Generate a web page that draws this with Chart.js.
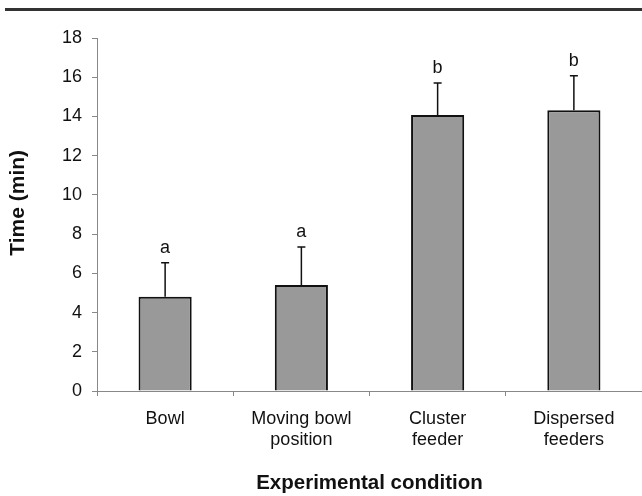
<!DOCTYPE html>
<html>
<head>
<meta charset="utf-8">
<script src="https://cdn.jsdelivr.net/npm/chart.js@4"></script>
<style>
  html, body { margin: 0; padding: 0; background: #fff; }
  #wrap { width: 642px; height: 496px; }
</style>
</head>
<body>
<div id="wrap"><canvas id="timeChart" width="642" height="496"></canvas></div>
<script>
// data
const conditions = [["Bowl"], ["Moving bowl", "position"], ["Cluster", "feeder"], ["Dispersed", "feeders"]];
const meanTime = [4.81, 5.41, 14.07, 14.31];
const errTime = [1.73, 1.93, 1.63, 1.77];
const groupLetters = ["a", "a", "b", "b"];
const yTicks = [0, 2, 4, 6, 8, 10, 12, 14, 16, 18];

const fontName = "'Liberation Sans', Arial, sans-serif";

// upper error bars plus the significance letters
const errorBars = {
    id: "errorBars",
    afterDatasetsDraw(chart) {
        const c = chart.ctx;
        const yScale = chart.scales.y;
        const bars = chart.getDatasetMeta(0).data;
        c.save();
        c.strokeStyle = "#111";
        c.lineWidth = 1.5;
        c.fillStyle = "#111";
        c.font = "18px " + fontName;
        c.textAlign = "center";
        c.textBaseline = "alphabetic";
        bars.forEach(function(bar, i) {
            const top = yScale.getPixelForValue(meanTime[i] + errTime[i]);
            c.beginPath();
            c.moveTo(bar.x, bar.y);
            c.lineTo(bar.x, top);
            c.moveTo(bar.x - 4, top);
            c.lineTo(bar.x + 4, top);
            c.stroke();
            c.fillText(groupLetters[i], bar.x, top - 10);
        });
        c.restore();
    }
};

// dark rule across the top of the figure
const topRule = {
    id: "topRule",
    beforeDraw(chart) {
        const c = chart.ctx;
        c.save();
        c.fillStyle = "#fff";
        c.fillRect(0, 0, chart.width, chart.height);
        c.strokeStyle = "#333";
        c.lineWidth = 3;
        c.beginPath();
        c.moveTo(5, 9.5);
        c.lineTo(chart.width, 9.5);
        c.stroke();
        c.restore();
    }
};

const ctx = document.getElementById("timeChart");
new Chart(ctx, {
    type: "bar",
    data: {
        labels: conditions,
        datasets: [{
            label: "Time (min)",
            data: meanTime,
            backgroundColor: "#999999",
            borderColor: "#111",
            borderWidth: 2,
            barPercentage: 0.39,
            categoryPercentage: 1
        }]
    },
    options: {
        responsive: false,
        animation: false,
        layout: { padding: { top: 38, left: 0, right: 0, bottom: 0 } },
        plugins: {
            legend: { display: false },
            tooltip: { enabled: false }
        },
        scales: {
            x: {
                grid: { offset: true, drawOnChartArea: false, tickLength: 5, color: "#888" },
                border: { color: "#888", width: 1 },
                ticks: {
                    color: "#111",
                    padding: 12,
                    maxRotation: 0,
                    font: { family: fontName, size: 18, lineHeight: 1.2 }
                },
                title: {
                    display: true,
                    text: "Experimental condition",
                    color: "#111",
                    font: { family: fontName, size: 20.5, weight: "bold" },
                    padding: { top: 0, bottom: 0 }
                },
                afterFit(scale) { scale.height = 105; }
            },
            y: {
                min: 0,
                max: 18,
                afterBuildTicks(scale) {
                    scale.ticks = yTicks.map(function(v) { return { value: v }; });
                },
                grid: { drawOnChartArea: false, tickLength: 5, color: "#888" },
                border: { color: "#888", width: 1 },
                ticks: {
                    color: "#111",
                    padding: 10,
                    font: { family: fontName, size: 18 }
                },
                title: {
                    display: true,
                    text: "    Time (min)",
                    color: "#111",
                    font: { family: fontName, size: 21, weight: "bold" },
                    padding: { top: 6, bottom: 0 }
                },
                afterFit(scale) { scale.width = 97; }
            }
        }
    },
    plugins: [topRule, errorBars]
});
</script>
</body>
</html>
